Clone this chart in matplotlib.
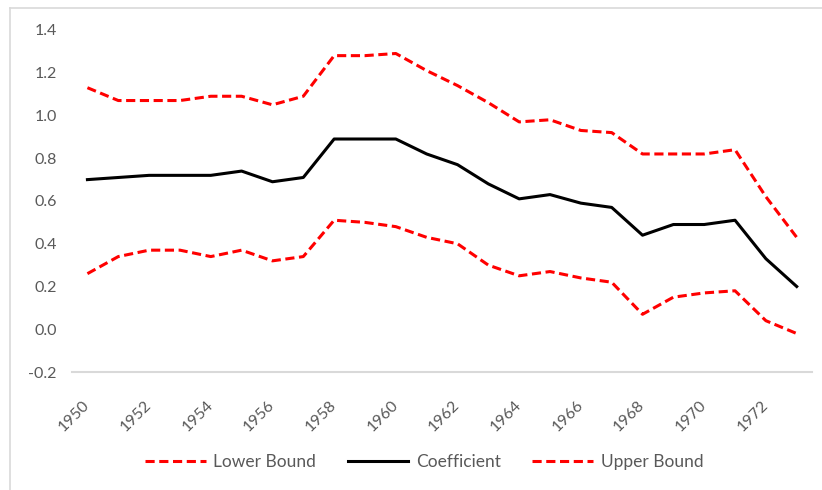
import numpy as np
import matplotlib
matplotlib.use("Agg")
import matplotlib.pyplot as plt
from matplotlib.lines import Line2D

# Values
years = list(range(1950, 1974))
coefficient = [0.70, 0.71, 0.72, 0.72, 0.72, 0.74, 0.69, 0.71, 0.89, 0.89, 0.89, 0.82,
               0.77, 0.68, 0.61, 0.63, 0.59, 0.57, 0.44, 0.49, 0.49, 0.51, 0.33, 0.20]
upper_bound = [1.13, 1.07, 1.07, 1.07, 1.09, 1.09, 1.05, 1.09, 1.28, 1.28, 1.29, 1.21,
               1.14, 1.06, 0.97, 0.98, 0.93, 0.92, 0.82, 0.82, 0.82, 0.84, 0.62, 0.43]
lower_bound = [0.26, 0.34, 0.37, 0.37, 0.34, 0.37, 0.32, 0.34, 0.51, 0.50, 0.48, 0.43,
               0.40, 0.30, 0.25, 0.27, 0.24, 0.22, 0.07, 0.15, 0.17, 0.18, 0.04, -0.02]
yticks = [-0.2, 0.0, 0.2, 0.4, 0.6, 0.8, 1.0, 1.2, 1.4]
xticks = years[::2]

text_col = "#595959"
plt.rcParams['font.family'] = ['Lato', 'DejaVu Sans']

fig = plt.figure(figsize=(8.22, 4.90), dpi=100)
ax = fig.add_axes([0.0876, 0.2408, 0.9004, 0.698])

ax.plot(years, lower_bound, color="#ff0000", lw=2.2, dashes=(3.0, 1.5), label="Lower Bound")
ax.plot(years, coefficient, color="black", lw=2.2, label="Coefficient")
ax.plot(years, upper_bound, color="#ff0000", lw=2.2, dashes=(3.0, 1.5), label="Upper Bound")

ax.set_xlim(1949.5, 1973.5)
ax.set_ylim(-0.2, 1.4)
ax.set_yticks(yticks)
ax.set_yticklabels([f"{v:.1f}" for v in yticks])
ax.set_xticks(xticks)
ax.set_xticklabels([str(y) for y in xticks], rotation=45, ha="right", va="center",
                   rotation_mode="anchor")

for s in ["top", "right", "left"]:
    ax.spines[s].set_visible(False)
ax.spines["bottom"].set_color("#d9d9d9")
ax.spines["bottom"].set_linewidth(1.5)
ax.tick_params(axis="both", length=0, colors=text_col, labelsize=11.5)
ax.tick_params(axis="y", pad=11)
ax.tick_params(axis="x", pad=22)

# frame lines of the chart area (top and left visible in the crop)
fig.add_artist(Line2D([10 / 822, 10 / 822], [0, 1 - 8 / 490], color="#d9d9d9", lw=1.2))
fig.add_artist(Line2D([10 / 822, 1], [1 - 8 / 490, 1 - 8 / 490], color="#d9d9d9", lw=1.2))

leg = fig.legend(loc="center", bbox_to_anchor=(0.516, 0.057), ncol=3, frameon=False,
                 handlelength=3.5, columnspacing=1.8, handletextpad=0.45, fontsize=12.5)
for t in leg.get_texts():
    t.set_color(text_col)

fig.savefig("out.png", dpi=100, facecolor="white")
